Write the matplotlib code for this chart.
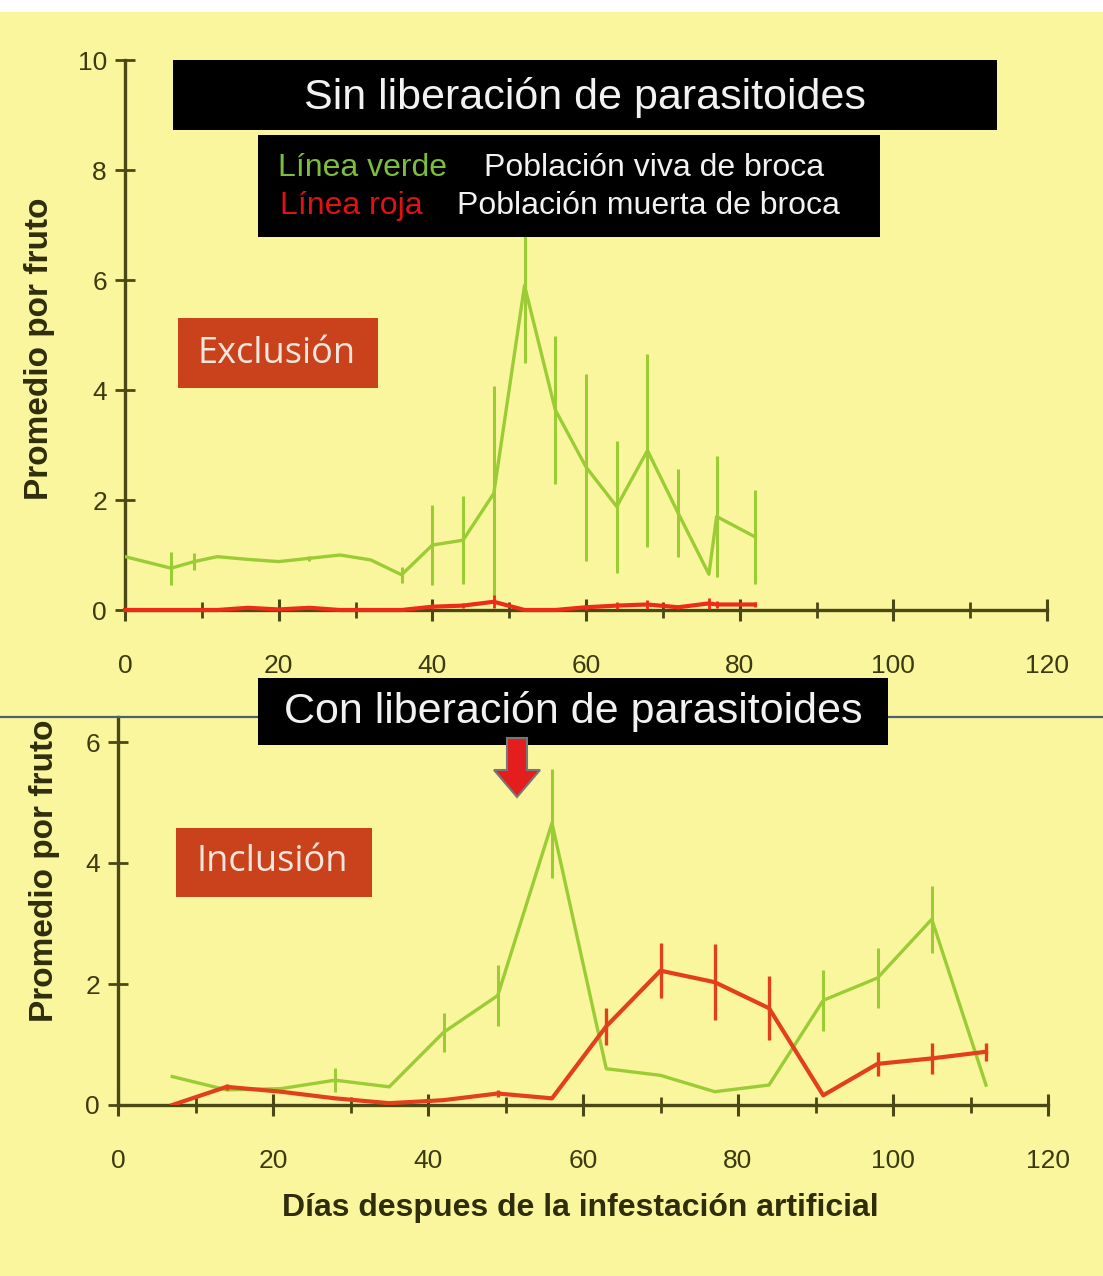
"""broca: poblacion viva y muerta por fruto, sin y con liberacion de parasitoides"""

import matplotlib
matplotlib.use("Agg")
import matplotlib.pyplot as plt
from matplotlib.patches import Rectangle, Polygon
from matplotlib.transforms import Bbox, TransformedBbox

# ---- datos ----
# panel superior: exclusion (sin liberacion)
exc_dias_verde = [0, 6, 9, 12, 16, 20, 24, 28, 32, 36, 40, 44, 48, 52, 56, 60, 64, 68, 72, 76, 77, 82]
exc_verde = [0.97, 0.76, 0.88, 0.97, 0.92, 0.88, 0.94, 1.0, 0.91, 0.64, 1.18, 1.27, 2.12, 5.9, 3.64,
             2.6, 1.88, 2.9, 1.76, 0.65, 1.7, 1.33]
exc_verde_err = [0, 0.3, 0.15, 0, 0, 0, 0.05, 0, 0, 0.15, 0.73, 0.8, 1.95, 1.4, 1.35,
                 1.7, 1.2, 1.76, 0.8, 0, 1.1, 0.86]
exc_dias_roja = [0, 6, 9, 12, 16, 20, 24, 28, 32, 36, 40, 44, 48, 52, 56, 60, 64, 68, 72, 76, 77, 82]
exc_roja = [0, 0, 0, 0, 0.04, 0.01, 0.04, 0, 0, 0, 0.06, 0.08, 0.15, 0, 0,
            0.05, 0.08, 0.1, 0.05, 0.12, 0.1, 0.1]
exc_roja_err = [0, 0, 0, 0, 0.03, 0, 0.03, 0, 0, 0, 0.05, 0.05, 0.12, 0, 0,
                0.05, 0.06, 0.08, 0.03, 0.1, 0.06, 0.05]

# panel inferior: inclusion (con liberacion)
inc_dias = [7, 14, 21, 28, 35, 42, 49, 56, 63, 70, 77, 84, 91, 98, 105, 112]
inc_verde = [0.47, 0.25, 0.27, 0.41, 0.3, 1.2, 1.81, 4.66, 0.6, 0.49, 0.22, 0.33, 1.73, 2.1, 3.07, 0.33]
inc_verde_err = [0, 0, 0, 0.2, 0, 0.32, 0.5, 0.9, 0, 0, 0, 0, 0.5, 0.5, 0.55, 0]
inc_roja = [0, 0.3, 0.22, 0.11, 0.03, 0.08, 0.19, 0.11, 1.3, 2.22, 2.03, 1.6, 0.16, 0.68, 0.77, 0.88]
inc_roja_err = [0, 0.05, 0, 0, 0, 0, 0.05, 0, 0.3, 0.45, 0.63, 0.53, 0, 0.2, 0.25, 0.15]

x_ticks = [0, 20, 40, 60, 80, 100, 120]
y_ticks_sup = [0, 2, 4, 6, 8, 10]
y_ticks_inf = [0, 2, 4, 6]

W, H = 1103, 1276
AMARILLO = "#FAF69E"
VERDE = "#9BCB35"
ROJO_SUP = "#EE2A18"
ROJO_INF = "#E2401C"
EJE = "#4a4814"
CAJA_ROJA = "#C9421B"
TEXTO = "#2f2d0c"


def fx(x):
    return x / W


def fy(y):
    return 1 - y / H


def estilo_eje(ax, y_ticks):
    ax.set_facecolor("none")
    for s in ["top", "right"]:
        ax.spines[s].set_visible(False)
    for s in ["left", "bottom"]:
        ax.spines[s].set_color(EJE)
        ax.spines[s].set_linewidth(2.4)
    ax.set_xlim(0, 120)
    ax.set_xticks(x_ticks)
    ax.set_xticks(range(10, 120, 20), minor=True)
    ax.set_yticks(y_ticks)
    ax.tick_params(axis="x", which="major", direction="inout", length=16, width=2.2,
                   color=EJE, pad=24, labelsize=19, labelcolor="#3c3a10")
    ax.tick_params(axis="x", which="minor", direction="inout", length=11, width=2,
                   color=EJE)
    ax.tick_params(axis="y", direction="inout", length=14, width=2, color=EJE,
                   pad=6, labelsize=19, labelcolor="#3c3a10")
    for lbl in ax.get_xticklabels() + ax.get_yticklabels():
        lbl.set_family("Liberation Sans")


fig = plt.figure(figsize=(W / 100, H / 100), dpi=100, facecolor=AMARILLO)
fig.add_artist(Rectangle((0, fy(12)), 1, 1, transform=fig.transFigure,
                         facecolor="white", edgecolor="none", zorder=-1))

# ---- panel superior ----
ax1 = fig.add_axes([fx(125), fy(610), fx(1047) - fx(125), fy(60) - fy(610)])
estilo_eje(ax1, y_ticks_sup)
ax1.set_ylim(0, 10)
ax1.errorbar(exc_dias_verde, exc_verde, yerr=exc_verde_err, color=VERDE, lw=2.4,
             elinewidth=2.2, capsize=0, zorder=3)
ax1.errorbar(exc_dias_roja, exc_roja, yerr=exc_roja_err, color=ROJO_SUP, lw=3,
             elinewidth=2, capsize=0, zorder=4, clip_on=False)

# ---- panel inferior ----
ax2 = fig.add_axes([fx(118), fy(1105), fx(1048) - fx(118), fy(717) - fy(1105)])
estilo_eje(ax2, y_ticks_inf)
ax2.set_ylim(0, 388 / 60.5)
ax2.errorbar(inc_dias, inc_verde, yerr=inc_verde_err, color=VERDE, lw=2.4,
             elinewidth=2.2, capsize=0, zorder=3)
ax2.errorbar(inc_dias, inc_roja, yerr=inc_roja_err, color=ROJO_INF, lw=3,
             elinewidth=2.4, capsize=0, zorder=4)

# linea separadora
fig.add_artist(plt.Line2D([0, 1], [fy(717), fy(717)], transform=fig.transFigure,
                          color="#4f5f6c", lw=1.6, zorder=2))

# etiquetas de ejes
fig.text(fx(40), fy(500), "Promedio por fruto", rotation=90, ha="center", va="bottom",
         fontsize=24, fontweight="bold", family="Liberation Sans", color=TEXTO)
lab2 = fig.text(fx(45), fy(1022), "Promedio por fruto", rotation=90, ha="center",
                va="bottom", fontsize=24, fontweight="bold", family="Liberation Sans",
                color=TEXTO)
lab2.set_clip_box(TransformedBbox(Bbox([[0, 0], [1, fy(719)]]), fig.transFigure))
lab2.set_clip_on(True)
fig.text(fx(580), fy(1208), "Días despues de la infestación artificial", ha="center",
         va="center", fontsize=23, fontweight="bold", family="Liberation Sans",
         color=TEXTO)


def caja(x0, y0, x1, y1, color, z=6):
    fig.add_artist(Rectangle((fx(x0), fy(y1)), fx(x1) - fx(x0), fy(y0) - fy(y1),
                             transform=fig.transFigure, facecolor=color,
                             edgecolor="none", zorder=z))


# cajas negras
caja(173, 60, 997, 130, "black")
fig.text(fx(585), fy(97), "Sin liberación de parasitoides", ha="center", va="center",
         fontsize=31, color="#f2f2f2", family="Liberation Sans", zorder=7)

caja(258, 135, 880, 237, "black")
fig.text(fx(278), fy(168), "Línea verde", ha="left", va="center", fontsize=23,
         color="#7DBE3C", family="Liberation Sans", zorder=7)
fig.text(fx(484), fy(168), "Población viva de broca", ha="left", va="center",
         fontsize=23, color="#f2f2f2", family="Liberation Sans", zorder=7)
fig.text(fx(280), fy(206), "Línea roja", ha="left", va="center", fontsize=23,
         color="#E01212", family="Liberation Sans", zorder=7)
fig.text(fx(457), fy(206), "Población muerta de broca", ha="left", va="center",
         fontsize=23, color="#f2f2f2", family="Liberation Sans", zorder=7)

caja(258, 678, 888, 745, "black")
fig.text(fx(573), fy(712), "Con liberación de parasitoides", ha="center", va="center",
         fontsize=31, color="#f2f2f2", family="Liberation Sans", zorder=7)

# cajas rojas
caja(178, 318, 378, 388, CAJA_ROJA)
fig.text(fx(277), fy(354), "Exclusión", ha="center", va="center", fontsize=26,
         color="#f4e6dc", family="Open Sans", zorder=7)
caja(176, 828, 372, 897, CAJA_ROJA)
fig.text(fx(272), fy(862), "Inclusión", ha="center", va="center", fontsize=26,
         color="#f4e6dc", family="Open Sans", zorder=7)

# flecha de liberacion
flecha = [(507, 738), (527, 738), (527, 770), (540, 770), (517, 797), (494, 770), (507, 770)]
fig.add_artist(Polygon([(fx(a), fy(b)) for a, b in flecha], closed=True,
                       transform=fig.transFigure, facecolor="#E41E1E",
                       edgecolor="#777777", lw=1.5, zorder=8))

fig.savefig("out.png", dpi=100, facecolor=AMARILLO)
